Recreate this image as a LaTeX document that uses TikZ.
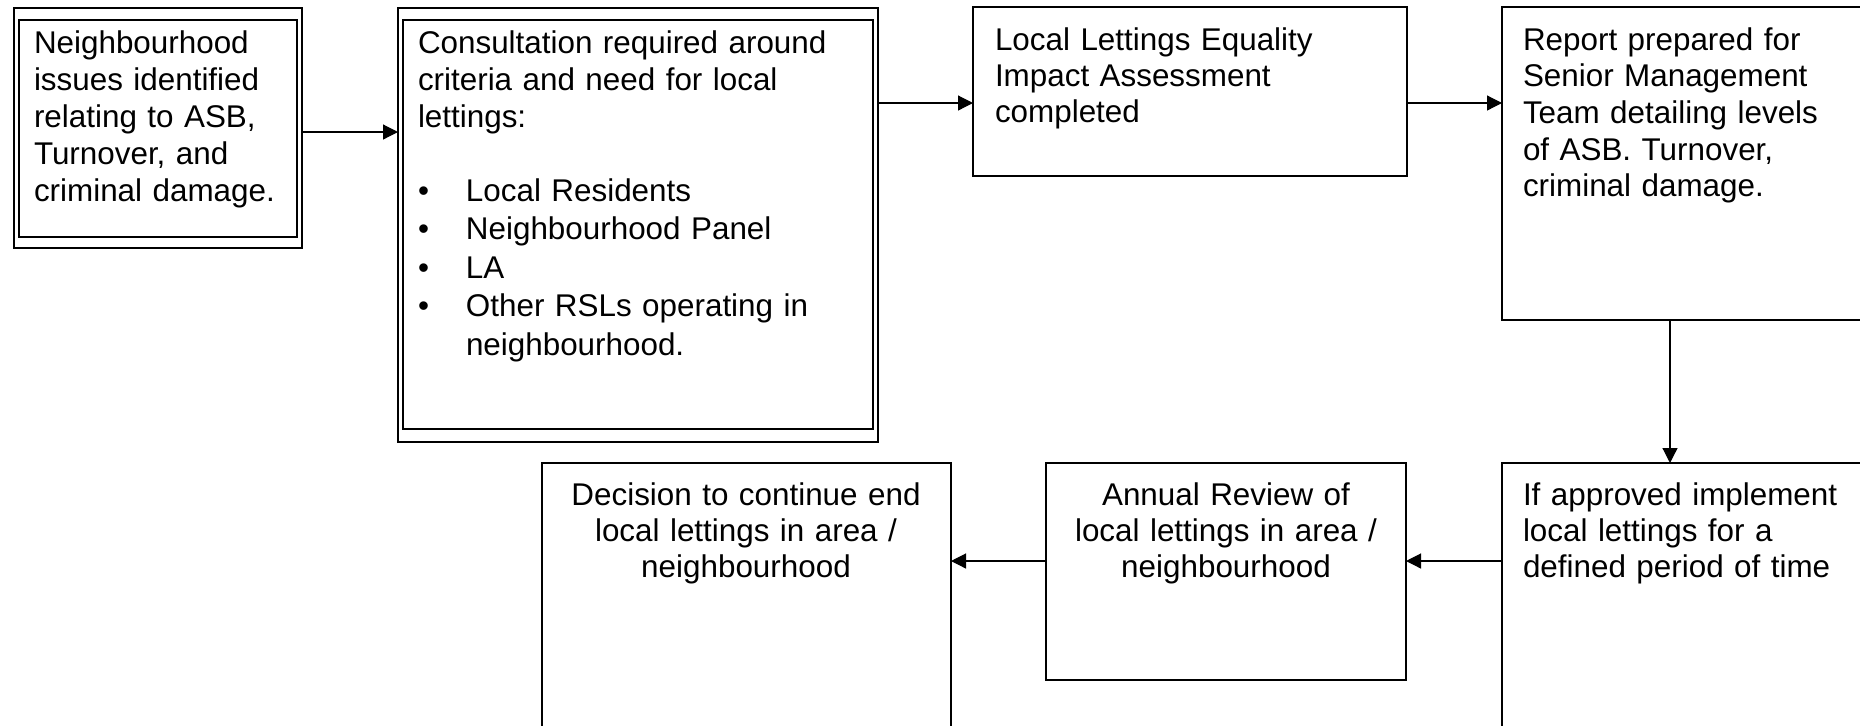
\documentclass[tikz,border=0pt]{standalone}
\usepackage{fontspec}
\setmainfont{Liberation Sans}
\usetikzlibrary{arrows.meta}
\begin{document}
\begin{tikzpicture}[x=0.5pt,y=-0.5pt,
  thinbox/.style={draw=black,line width=0.6pt,inner sep=0pt,outer sep=0pt,anchor=north west},
  thickbox/.style={draw=black,line width=1.1pt,inner sep=0pt,outer sep=0pt,anchor=north west},
  plainbox/.style={draw=black,line width=0.8pt,inner sep=0pt,outer sep=0pt,anchor=north west},
  conn/.style={draw=black,line width=0.6pt,-{Triangle[length=7.5pt,width=7.5pt]}},
  txt/.style={inner sep=0pt,outer sep=0pt,align=left,anchor=base west,text width=#1},
  ctxt/.style={inner sep=0pt,outer sep=0pt,align=center,anchor=base,text width=#1},
  fs/.style={font=\fontsize{15.7}{#1}\selectfont},
]
\useasboundingbox (0,0) rectangle (1860,725);
\clip (0,0) rectangle (1860,725);
\fill[white] (0,0) rectangle (1860,725);

% boxes
\node[thinbox,minimum width=144pt,minimum height=120pt] (b1o) at (14,8) {};
\node[thickbox,minimum width=139pt,minimum height=108.5pt] (b1) at (19,20) {};
\node[thinbox,minimum width=240pt,minimum height=217pt] (b2o) at (398,8) {};
\node[thickbox,minimum width=235pt,minimum height=204.5pt] (b2) at (403,20) {};
\node[plainbox,minimum width=217pt,minimum height=84.5pt] (b3) at (973,7) {};
\node[plainbox,minimum width=200pt,minimum height=156.5pt] (b4) at (1502,7) {};
\node[plainbox,minimum width=204.5pt,minimum height=150pt] (b5) at (542,463) {};
\node[plainbox,minimum width=180pt,minimum height=108.5pt] (b6) at (1046,463) {};
\node[plainbox,minimum width=200pt,minimum height=150pt] (b7) at (1502,463) {};

% texts
\node[txt=135pt,fs=18.5pt] (t1) at (34,53) {Neighbourhood\\issues identified\\relating to ASB,\\Turnover, and\\criminal damage.};
\node[txt=230pt,fs=18.5pt] (t2) at (418,53) {Consultation required around\\criteria and need for local\\lettings:};
\node[txt=230pt,fs=19.2pt] (t2b) at (418,201.5) {\makebox[24pt][l]{•}Local Residents\\\makebox[24pt][l]{•}Neighbourhood Panel\\\makebox[24pt][l]{•}LA\\\makebox[24pt][l]{•}Other RSLs operating in\\\hspace*{24pt}neighbourhood.};
\node[txt=200pt,fs=18pt] (t3) at (995,50) {Local Lettings Equality\\Impact Assessment\\completed};
\node[txt=170pt,fs=18.35pt] (t4) at (1523,50) {Report prepared for\\Senior Management\\Team detailing levels\\of ASB. Turnover,\\criminal damage.};
\node[ctxt=200pt,fs=18pt] (t5) at (746,505) {Decision to continue end\\local lettings in area /\\neighbourhood};
\node[ctxt=178pt,fs=18pt] (t6) at (1226,505) {Annual Review of\\local lettings in area /\\neighbourhood};
\node[txt=170pt,fs=18pt] (t7) at (1523,505) {If approved implement\\local lettings for a\\defined period of time};

% connector levels
\coordinate (y1) at (0,132);
\coordinate (y2) at (0,103);
\coordinate (y3) at (0,561);
\coordinate (x4) at (1670,0);

\draw[conn] (b1o.east |- y1) -- (b2o.west |- y1);
\draw[conn] (b2o.east |- y2) -- (b3.west |- y2);
\draw[conn] (b3.east |- y2) -- (b4.west |- y2);
\draw[conn] (x4 |- b4.south) -- (x4 |- b7.north);
\draw[conn] (b7.west |- y3) -- (b6.east |- y3);
\draw[conn] (b6.west |- y3) -- (b5.east |- y3);
\end{tikzpicture}
\end{document}
